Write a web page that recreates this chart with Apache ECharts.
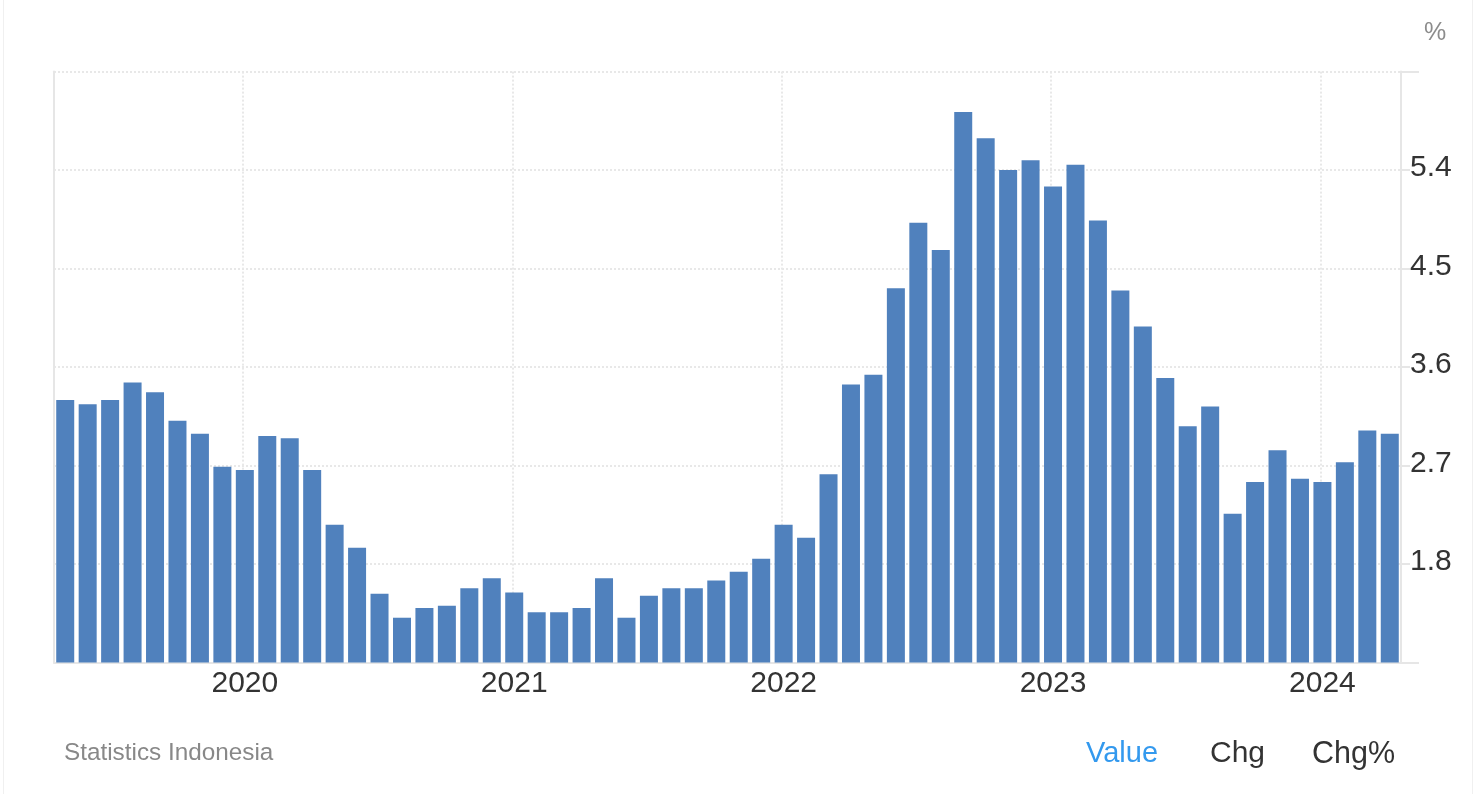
<!DOCTYPE html>
<html>
<head>
<meta charset="utf-8">
<title>Indonesia inflation rate</title>
<script src="https://cdn.jsdelivr.net/npm/echarts@6/dist/echarts.min.js"></script>
<style>
    html, body { margin: 0; padding: 0; background: #fff; }
    #container { width: 1474px; height: 794px; position: relative; }
    /* thin frame of the page card */
    #frame { position: absolute; left: 3px; top: 0; width: 1468px; height: 794px;
             border-left: 1px solid #f0f0f0; border-right: 1px solid #f0f0f0; pointer-events: none; }
</style>
</head>
<body>
<div id="container"></div>
<div id="frame"></div>
<script>
var months = [
    '2019-05', '2019-06', '2019-07', '2019-08', '2019-09', '2019-10', '2019-11', '2019-12',
    '2020-01', '2020-02', '2020-03', '2020-04', '2020-05', '2020-06', '2020-07', '2020-08', '2020-09', '2020-10', '2020-11', '2020-12',
    '2021-01', '2021-02', '2021-03', '2021-04', '2021-05', '2021-06', '2021-07', '2021-08', '2021-09', '2021-10', '2021-11', '2021-12',
    '2022-01', '2022-02', '2022-03', '2022-04', '2022-05', '2022-06', '2022-07', '2022-08', '2022-09', '2022-10', '2022-11', '2022-12',
    '2023-01', '2023-02', '2023-03', '2023-04', '2023-05', '2023-06', '2023-07', '2023-08', '2023-09', '2023-10', '2023-11', '2023-12',
    '2024-01', '2024-02', '2024-03', '2024-04'
];
var inflation = [
    3.30, 3.26, 3.30, 3.46, 3.37, 3.11, 2.99, 2.69,
    2.66, 2.97, 2.95, 2.66, 2.16, 1.95, 1.53, 1.31, 1.40, 1.42, 1.58, 1.67,
    1.54, 1.36, 1.36, 1.40, 1.67, 1.31, 1.51, 1.58, 1.58, 1.65, 1.73, 1.85,
    2.16, 2.04, 2.62, 3.44, 3.53, 4.32, 4.92, 4.67, 5.93, 5.69, 5.40, 5.49,
    5.25, 5.45, 4.94, 4.30, 3.97, 3.50, 3.06, 3.24, 2.26, 2.55, 2.84, 2.58,
    2.55, 2.73, 3.02, 2.99
];
var yMin = 0.9;
var yMax = 6.3;
var yStep = 0.9;

var axisColor = '#e6e6e6';
var dotColor = '#e8e8e8';
var fontName = '"Liberation Sans", Arial, sans-serif';

function isJanuary(index) {
    return months[index].slice(5) === '01';
}

var container = document.getElementById('container');
var charts = echarts.init(container);

var option = {
    animation: false,
    backgroundColor: '#fff',
    textStyle: { fontFamily: fontName },
    grid: [
        { left: 54, top: 71.6, width: 1347, height: 591 },
        // second grid only carries the year lines, they sit a bit left of the bar centres
        { left: 52.2, top: 71.6, width: 1347, height: 591 },
        // third grid only carries the value labels, they sit a bit above their ticks
        { left: 54, top: 69.6, width: 1347, height: 591 }
    ],
    xAxis: [
        {
            type: 'category',
            gridIndex: 0,
            data: months,
            axisLine: { lineStyle: { color: axisColor, width: 2 } },
            axisTick: { show: false },
            splitLine: { show: false },
            axisLabel: {
                interval: function (index) { return isJanuary(index); },
                formatter: function (value) { return value.slice(0, 4); },
                color: '#333',
                fontSize: 30,
                margin: 6
            }
        },
        {
            type: 'category',
            gridIndex: 1,
            data: months,
            axisLine: { show: false },
            axisTick: { show: false },
            axisLabel: { show: false },
            splitLine: {
                show: true,
                alignWithLabel: true,
                interval: function (index) { return isJanuary(index); },
                lineStyle: { color: dotColor, width: 2, type: [2, 2] }
            }
        },
        {
            type: 'category',
            gridIndex: 2,
            data: months,
            show: false
        }
    ],
    yAxis: [
        {
            type: 'value',
            gridIndex: 0,
            position: 'right',
            min: yMin,
            max: yMax,
            interval: yStep,
            name: '%',
            nameLocation: 'end',
            nameGap: 26,
            nameTextStyle: { color: '#8c8c8c', fontSize: 25, align: 'left', padding: [0, 0, 0, 23] },
            axisLine: { show: true, lineStyle: { color: axisColor, width: 2 } },
            axisTick: { show: true, length: 18, lineStyle: { color: axisColor, width: 2 } },
            splitLine: { show: true, lineStyle: { color: dotColor, width: 2, type: [2, 2] } },
            axisLabel: { show: false }
        },
        {
            type: 'value',
            gridIndex: 0,
            position: 'left',
            min: yMin,
            max: yMax,
            interval: yStep,
            axisLine: { show: true, lineStyle: { color: axisColor, width: 2 } },
            axisTick: { show: false },
            axisLabel: { show: false },
            splitLine: { show: false }
        },
        {
            type: 'value',
            gridIndex: 1,
            min: yMin,
            max: yMax,
            interval: yStep,
            show: false
        },
        {
            type: 'value',
            gridIndex: 2,
            position: 'right',
            z: 3,
            min: yMin,
            max: yMax,
            interval: yStep,
            axisLine: { show: false },
            axisTick: { show: false },
            splitLine: { show: false },
            axisLabel: {
                showMinLabel: false,
                showMaxLabel: false,
                color: '#333',
                fontSize: 30,
                margin: 9,
                backgroundColor: '#fff',
                formatter: function (value) { return value.toFixed(1); }
            }
        }
    ],
    series: [
        {
            type: 'bar',
            xAxisIndex: 0,
            yAxisIndex: 0,
            data: inflation,
            barWidth: 18,
            itemStyle: { color: '#5081bd' }
        }
    ],
    graphic: [
        { type: 'text', left: 64, top: 741, style: { text: 'Statistics Indonesia', fill: '#888', font: '24.3px ' + fontName } },
        { type: 'text', left: 1086, top: 739, style: { text: 'Value', fill: '#3399ee', font: '29px ' + fontName } },
        { type: 'text', left: 1210, top: 739, style: { text: 'Chg', fill: '#333', font: '30px ' + fontName } },
        { type: 'text', left: 1312, top: 739, style: { text: 'Chg%', fill: '#333', font: '30.5px ' + fontName } }
    ]
};

charts.setOption(option, true);
</script>
</body>
</html>
